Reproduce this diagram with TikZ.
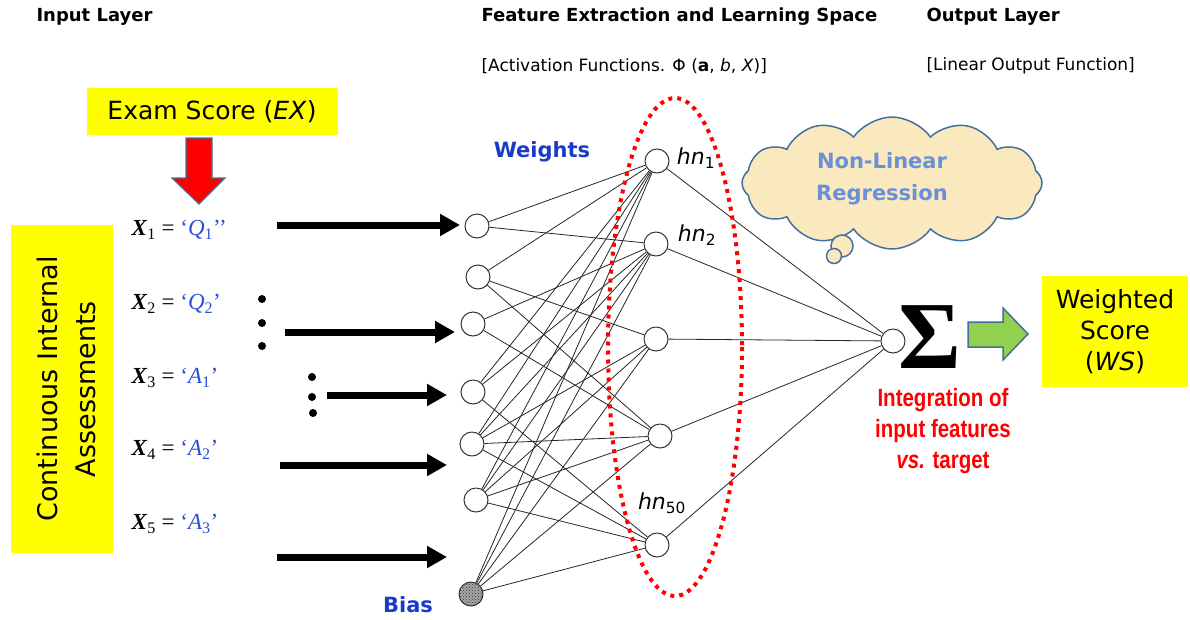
\documentclass[tikz,border=0pt]{standalone}
\usepackage{fontspec}
\setmainfont{DejaVu Sans}
\newfontfamily\tnr{Liberation Serif}
\newfontfamily\narrowf[FakeStretch=0.82]{Liberation Sans}
\usetikzlibrary{arrows.meta,shapes.symbols,patterns}
\definecolor{ylw}{RGB}{255,255,0}
\definecolor{wblue}{RGB}{25,60,200}
\definecolor{xblue}{RGB}{40,80,220}
\definecolor{outblue}{RGB}{65,113,156}
\definecolor{cloudfill}{RGB}{250,232,190}
\definecolor{cloudtxt}{RGB}{105,145,215}
\definecolor{grn}{RGB}{146,208,80}
\newcommand\fsz[2]{\fontsize{#1}{#2}\selectfont}
\newcommand\xlab[4]{{\tnr\fsz{23}{26}\textbf{\textit{X}}\textsubscript{#1} = \textcolor{xblue}{‘\textit{#2}\textsubscript{#3}’#4}}}
\begin{document}
\begin{tikzpicture}[x=1pt,y=-1pt,
  neuron/.style={circle,draw=black!80,line width=1pt,fill=white,minimum size=24pt,inner sep=0pt},
  edge/.style={line width=0.8pt,black!85},
  bigarrow/.style={line width=7pt,-{Triangle[length=20pt,width=21pt]}},
  dotc/.style={circle,fill=black,minimum size=8pt,inner sep=0pt},
  ybox/.style={fill=ylw,inner sep=0pt},
  title/.style={anchor=west,font=\fsz{18}{22}\bfseries},
  sub/.style={anchor=west,font=\fsz{17}{20}}]
\useasboundingbox (0,0) rectangle (1190,619);

% titles
\node[title] (tin) at (33,17) {Input Layer};
\node[title] (tfe) at (478,17) {Feature Extraction and Learning Space};
\node[title] (tout) at (923,17) {Output Layer};
\node[sub] (tact) at (478,66) {[Activation Functions. Φ (\textbf{a}, \textit{b}, \textit{X})]};
\node[sub] (tlin) at (923,66) {[Linear Output Function]};

% exam score
\node[ybox,minimum width=251pt,minimum height=47pt,font=\fsz{25}{30}] (exam) at (212,111.5) {Exam Score (\textit{EX})};
\draw[fill=red,draw=outblue,line width=1.2pt] (186,138) -- (212,138) -- (212,178) -- (225,178) -- (199,204) -- (172,178) -- (186,178) -- cycle;

% CIA box
\node[ybox,minimum width=102pt,minimum height=328pt] (cia) at (62,389) {};
\node[rotate=90,align=center,font=\fsz{27}{38}] (ciat) at (66,389) {Continuous Internal\\Assessments};

% X labels
\node[anchor=west] (x1) at (128,230) {\xlab{1}{Q}{1}{’}};
\node[anchor=west] (x2) at (128,304) {\xlab{2}{Q}{2}{}};
\node[anchor=west] (x3) at (128,378) {\xlab{3}{A}{1}{}};
\node[anchor=west] (x4) at (128,450) {\xlab{4}{A}{2}{}};
\node[anchor=west] (x5) at (128,524) {\xlab{5}{A}{3}{}};

% dots
\node[dotc] (d1) at (262,299) {};
\node[dotc] (d2) at (262,323) {};
\node[dotc] (d3) at (262,346) {};
\node[dotc] (d4) at (312,377) {};
\node[dotc] (d5) at (312,397) {};
\node[dotc] (d6) at (313,413) {};

% input arrows
\coordinate (a1s) at (277,225); \coordinate (a1e) at (460,225);
\coordinate (a2s) at (285,332); \coordinate (a2e) at (455,332);
\coordinate (a3s) at (327,395); \coordinate (a3e) at (447,395);
\coordinate (a4s) at (280,465); \coordinate (a4e) at (447,465);
\coordinate (a5s) at (277,557); \coordinate (a5e) at (447,557);
\foreach \k in {1,...,5} \draw[bigarrow] (a\k s) -- (a\k e);

% neurons
\node[neuron] (i1) at (477,226) {};
\node[neuron] (i2) at (478,277) {};
\node[neuron] (i3) at (473,324) {};
\node[neuron] (i4) at (473,392) {};
\node[neuron] (i5) at (472,444) {};
\node[neuron] (i6) at (476,500) {};
\node[neuron,preaction={fill=gray!70},pattern=crosshatch dots,pattern color=black!80] (b) at (471,594) {};
\node[neuron] (h1) at (657,161) {};
\node[neuron] (h2) at (656,244) {};
\node[neuron] (h3) at (656,339) {};
\node[neuron] (h4) at (660,436) {};
\node[neuron] (h5) at (657,545) {};
\node[neuron] (out) at (893,341) {};

\foreach \a/\c in {i1/h1,i1/h2,i2/h1,i2/h3,i2/h4,i3/h2,i3/h4,i4/h1,i4/h2,i4/h5,
  i5/h1,i5/h2,i5/h3,i5/h4,i5/h5,i6/h1,i6/h2,i6/h3,i6/h4,i6/h5,b/h1,b/h2,b/h3,b/h4,b/h5}
  \draw[edge] (\a) -- (\c);
\foreach \h in {h1,h2,h3,h4,h5} \draw[edge] (\h) -- (out);

% dotted ellipse
\draw[red,line width=4pt,dash pattern=on 4pt off 5pt] (675,347) ellipse [x radius=67, y radius=249];

% labels
\node[font=\fsz{21}{24}\bfseries,text=wblue] (wl) at (542,152) {Weights};
\node[font=\fsz{21}{24}\bfseries,text=wblue] (bl) at (408,605) {Bias};
\node[font=\fsz{22}{26}\itshape] (l1) at (696,158) {hn\textsubscript{\upshape 1}};
\node[font=\fsz{22}{26}\itshape] (l2) at (697,235) {hn\textsubscript{\upshape 2}};
\node[font=\fsz{22}{26}\itshape] (l50) at (662,503) {hn\textsubscript{\upshape 50}};

% cloud
\node[cloud,cloud puffs=12,cloud puff arc=110,aspect=2.4,draw=outblue,fill=cloudfill,line width=1.5pt,minimum width=300pt,minimum height=132pt,inner sep=0pt] (cloud) at (892,183) {};
\draw[draw=outblue,fill=cloudfill,line width=1.5pt] (842,246) circle [radius=11];
\draw[draw=outblue,fill=cloudfill,line width=1.5pt] (834,256) circle [radius=7.5];
\node[font=\fsz{21}{32}\bfseries,text=cloudtxt,align=center] (ct) at (882,179) {Non-Linear\\Regression};

% sigma
\node[font=\tnr\bfseries\fsz{96}{96},inner sep=0pt] (sig) at (930,337) {Σ};
\draw[fill=grn,draw=outblue,line width=1.5pt] (968,322) -- (1003,322) -- (1003,308) -- (1028,334) -- (1003,360) -- (1003,347) -- (968,347) -- cycle;

% weighted score
\node[ybox,minimum width=146pt,minimum height=111pt,align=center,font=\fsz{25}{31}] (ws) at (1115,331.5) {Weighted\\Score\\(\textit{WS})};

\node[align=center,text=red,font=\narrowf\bfseries\fsz{25}{31}] (integ) at (943,431) {Integration of\\input features\\\textit{vs.} target};
\end{tikzpicture}
\end{document}
